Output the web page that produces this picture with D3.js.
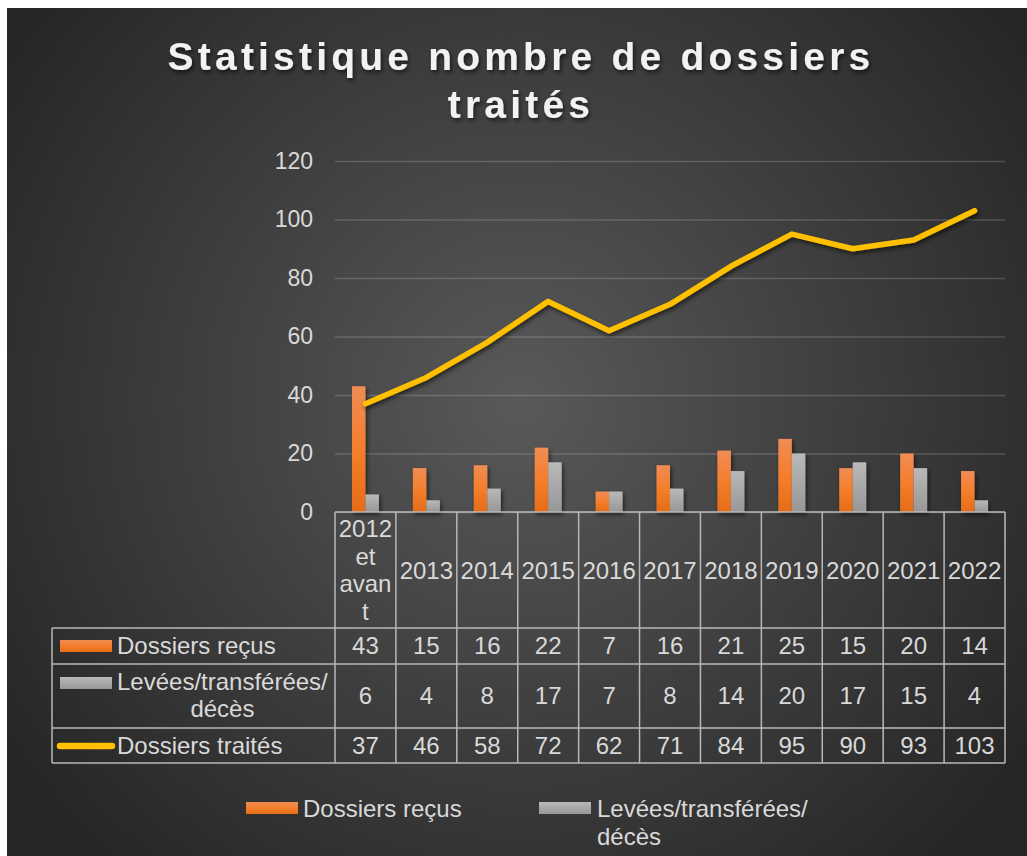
<!DOCTYPE html>
<html>
<head>
<meta charset="utf-8">
<script src="https://cdn.jsdelivr.net/npm/d3@7"></script>
<style>
  html, body { margin: 0; padding: 0; background: #fff; }
  svg text { font-family: "Liberation Sans", Arial, sans-serif; }
</style>
</head>
<body>
<div id="chart"></div>
<script>
var categories = ["2012 et avant", "2013", "2014", "2015", "2016", "2017", "2018", "2019", "2020", "2021", "2022"];
var recus = [43, 15, 16, 22, 7, 16, 21, 25, 15, 20, 14];
var levees = [6, 4, 8, 17, 7, 8, 14, 20, 17, 15, 4];
var traites = [37, 46, 58, 72, 62, 71, 84, 95, 90, 93, 103];
var yTicks = [0, 20, 40, 60, 80, 100, 120];
var seriesNames = ["Dossiers reçus", "Levées/transférées/ décès", "Dossiers traités"];

var width = 1027, height = 856;
var plot = { left: 335, right: 1005, top: 161, bottom: 512 };
var textCol = "#d9d9d9";
var borderCol = "#b8b8b8";
var fs = 24;

var svg = d3.select("#chart").append("svg")
  .attr("width", width)
  .attr("height", height);

var defs = svg.append("defs");

var bg = defs.append("radialGradient").attr("id", "bg")
  .attr("gradientUnits", "userSpaceOnUse")
  .attr("cx", 520).attr("cy", 400).attr("r", 620);
bg.append("stop").attr("offset", "0%").attr("stop-color", "#595959");
bg.append("stop").attr("offset", "100%").attr("stop-color", "#262626");

var gOrange = defs.append("linearGradient").attr("id", "gOrange")
  .attr("x1", 0).attr("y1", 0).attr("x2", 0).attr("y2", 1);
gOrange.append("stop").attr("offset", "0%").attr("stop-color", "#f08c55");
gOrange.append("stop").attr("offset", "50%").attr("stop-color", "#f47e2c");
gOrange.append("stop").attr("offset", "100%").attr("stop-color", "#e56c17");

var gGray = defs.append("linearGradient").attr("id", "gGray")
  .attr("x1", 0).attr("y1", 0).attr("x2", 0).attr("y2", 1);
gGray.append("stop").attr("offset", "0%").attr("stop-color", "#b9b9b9");
gGray.append("stop").attr("offset", "100%").attr("stop-color", "#979797");

var shadow = defs.append("filter").attr("id", "shadow")
  .attr("x", "-10%").attr("y", "-10%").attr("width", "130%").attr("height", "140%");
shadow.append("feDropShadow").attr("dx", 1.5).attr("dy", 2.5).attr("stdDeviation", 2)
  .attr("flood-color", "#000").attr("flood-opacity", 0.6);

// background card
svg.append("rect").attr("x", 7).attr("y", 8).attr("width", width - 7).attr("height", height - 8)
  .attr("fill", "url(#bg)");

// title
var title = svg.append("text")
  .attr("text-anchor", "middle")
  .attr("fill", "#f2f2f2")
  .attr("font-size", 39)
  .attr("font-weight", "bold")
  .attr("letter-spacing", 4.2)
  .attr("filter", "url(#shadow)");
title.append("tspan").attr("x", 521).attr("y", 70).text("Statistique nombre de dossiers");
title.append("tspan").attr("x", 521).attr("y", 118).text("traités");

var x = d3.scaleBand().domain(categories).range([plot.left, plot.right]);
var y = d3.scaleLinear().domain([0, 120]).range([plot.bottom, plot.top]);
var bw = x.bandwidth();
var x1 = d3.scaleBand().domain(["recus", "levees"]).range([bw / 2 - 13.5, bw / 2 + 13.5]);

// gridlines
svg.append("g")
  .attr("transform", "translate(" + plot.left + ",0)")
  .call(d3.axisLeft(y).tickValues(yTicks).tickSize(-(plot.right - plot.left)).tickFormat(""))
  .call(function (g) { g.select(".domain").remove(); })
  .selectAll("line")
  .attr("stroke", "#ffffff").attr("stroke-opacity", 0.17).attr("stroke-width", 1.5);

// y axis labels
var yAxis = svg.append("g")
  .attr("transform", "translate(" + plot.left + ",0)")
  .call(d3.axisLeft(y).tickValues(yTicks).tickSize(0).tickPadding(22));
yAxis.select(".domain").remove();
yAxis.selectAll("text")
  .attr("fill", textCol).attr("font-size", 23)
  .style("font-family", "'Liberation Sans', Arial, sans-serif");

// bars
var barData = [];
categories.forEach(function (c, i) {
  barData.push({ cat: c, key: "recus", v: recus[i] });
  barData.push({ cat: c, key: "levees", v: levees[i] });
});
svg.append("g").attr("filter", "url(#shadow)")
  .selectAll("rect").data(barData).enter().append("rect")
  .attr("x", function (d) { return x(d.cat) + x1(d.key); })
  .attr("y", function (d) { return y(d.v); })
  .attr("width", x1.bandwidth())
  .attr("height", function (d) { return y(0) - y(d.v); })
  .attr("fill", function (d) { return d.key == "recus" ? "url(#gOrange)" : "url(#gGray)"; });

// line
var line = d3.line()
  .x(function (d, i) { return x(categories[i]) + bw / 2; })
  .y(function (d) { return y(d); });
svg.append("path").datum(traites)
  .attr("d", line)
  .attr("fill", "none")
  .attr("stroke", "#ffc000")
  .attr("stroke-width", 5.5)
  .attr("stroke-linejoin", "round")
  .attr("stroke-linecap", "round")
  .attr("filter", "url(#shadow)");

// data table
var rows = { header: 512, r1: 628, r2: 664, r3: 728, end: 763 };
var tableLeft = 52;
var tbl = svg.append("g");

function hline(y0, x0) {
  tbl.append("line").attr("x1", x0).attr("x2", plot.right).attr("y1", y0).attr("y2", y0)
    .attr("stroke", borderCol).attr("stroke-width", 1.5);
}
hline(rows.header, plot.left);
hline(rows.r1, tableLeft);
hline(rows.r2, tableLeft);
hline(rows.r3, tableLeft);
hline(rows.end, tableLeft);
tbl.append("line").attr("x1", tableLeft).attr("x2", tableLeft).attr("y1", rows.r1).attr("y2", rows.end)
  .attr("stroke", borderCol).attr("stroke-width", 1.5);
var colEdges = categories.map(function (c) { return x(c); }).concat([plot.right]);
tbl.selectAll(".vline").data(colEdges).enter().append("line")
  .attr("x1", function (d) { return d; }).attr("x2", function (d) { return d; })
  .attr("y1", rows.header).attr("y2", rows.end)
  .attr("stroke", borderCol).attr("stroke-width", 1.5);

// header category labels (wrapped to column width)
function wrapLabel(label, maxW, size) {
  var probe = svg.append("text").attr("font-size", size);
  var measure = function (s) { probe.text(s); return probe.node().getComputedTextLength(); };
  var out = [], cur = "";
  label.split(" ").forEach(function (w) {
    var test = cur ? cur + " " + w : w;
    if (measure(test) <= maxW) { cur = test; return; }
    if (cur) out.push(cur);
    cur = "";
    var piece = "";
    w.split("").forEach(function (ch) {
      if (measure(piece + ch) <= maxW) piece += ch;
      else { out.push(piece); piece = ch; }
    });
    cur = piece;
  });
  if (cur) out.push(cur);
  probe.remove();
  return out;
}
categories.forEach(function (c) {
  var lines = wrapLabel(c, bw - 6, fs);
  var lh = 27.5;
  var mid = (rows.header + rows.r1) / 2;
  var first = mid - (lines.length - 1) * lh / 2 + 8.5;
  var t = tbl.append("text").attr("text-anchor", "middle").attr("fill", textCol).attr("font-size", fs);
  lines.forEach(function (l, k) {
    t.append("tspan").attr("x", x(c) + bw / 2).attr("y", first + k * lh).text(l);
  });
});

// values
function valueRow(vals, yBase) {
  tbl.selectAll(null).data(vals).enter().append("text")
    .attr("x", function (d, i) { return x(categories[i]) + bw / 2; })
    .attr("y", yBase)
    .attr("text-anchor", "middle")
    .attr("fill", textCol).attr("font-size", fs)
    .text(function (d) { return d; });
}
valueRow(recus, 654);
valueRow(levees, 704);
valueRow(traites, 754);

// row legend keys + names
tbl.append("rect").attr("x", 60).attr("y", 640).attr("width", 52).attr("height", 12).attr("fill", "url(#gOrange)");
tbl.append("text").attr("x", 117).attr("y", 654).attr("fill", textCol).attr("font-size", fs).text(seriesNames[0]);
tbl.append("rect").attr("x", 60).attr("y", 677).attr("width", 52).attr("height", 12).attr("fill", "url(#gGray)");
var lv1 = tbl.append("text").attr("x", 117).attr("y", 690).attr("fill", textCol).attr("font-size", fs)
  .text(seriesNames[1].split(" ")[0]);
var lvW = lv1.node().getComputedTextLength();
tbl.append("text").attr("x", 117 + lvW / 2).attr("y", 717).attr("text-anchor", "middle")
  .attr("fill", textCol).attr("font-size", fs).text(seriesNames[1].split(" ")[1]);
tbl.append("line").attr("x1", 60).attr("x2", 112).attr("y1", 746).attr("y2", 746)
  .attr("stroke", "#ffc000").attr("stroke-width", 6.5).attr("stroke-linecap", "round");
tbl.append("text").attr("x", 117).attr("y", 754).attr("fill", textCol).attr("font-size", fs).text(seriesNames[2]);

// bottom legend
var leg = svg.append("g");
leg.append("rect").attr("x", 246).attr("y", 802).attr("width", 52).attr("height", 12).attr("fill", "url(#gOrange)");
leg.append("text").attr("x", 303).attr("y", 817).attr("fill", textCol).attr("font-size", fs).text(seriesNames[0]);
leg.append("rect").attr("x", 539).attr("y", 802).attr("width", 52).attr("height", 12).attr("fill", "url(#gGray)");
var lg = leg.append("text").attr("fill", textCol).attr("font-size", fs);
lg.append("tspan").attr("x", 597).attr("y", 817).text(seriesNames[1].split(" ")[0]);
lg.append("tspan").attr("x", 597).attr("y", 845).text(seriesNames[1].split(" ")[1]);
</script>
</body>
</html>
